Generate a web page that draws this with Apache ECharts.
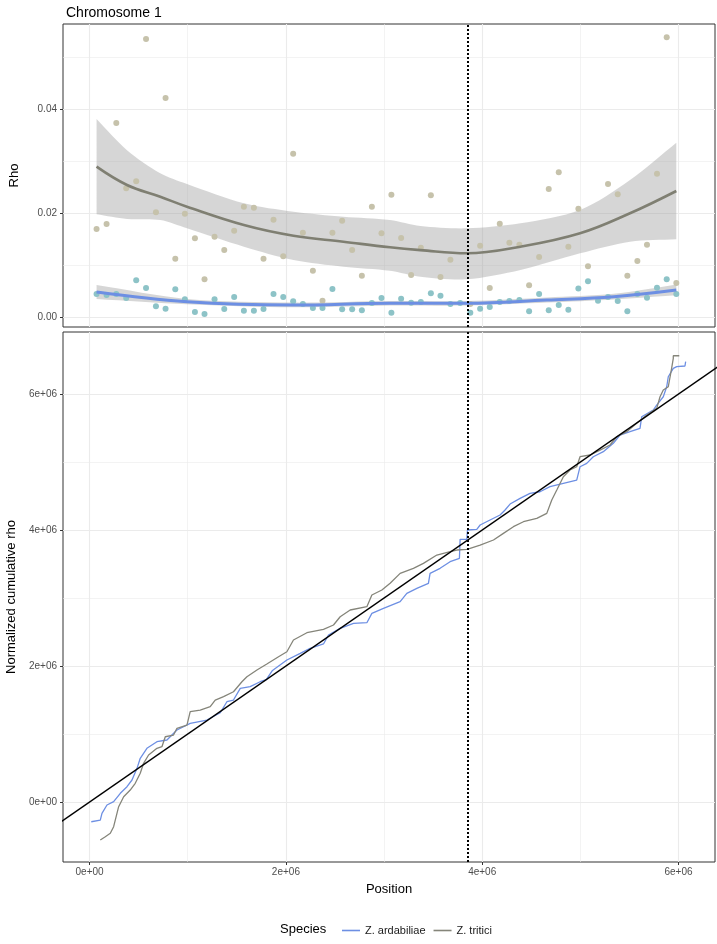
<!DOCTYPE html>
<html><head><meta charset="utf-8">
<script src="https://cdn.jsdelivr.net/npm/echarts@6/dist/echarts.min.js"></script>
<style>html,body{margin:0;padding:0;background:#fff}#c{width:717px;height:944px}</style>
</head><body><div id="c"></div>
<script>
// ---------- DATA (positions in Mb) ----------
const windowPos = [0.071,0.173,0.272,0.373,0.475,0.575,0.676,0.774,0.873,0.971,
  1.073,1.171,1.273,1.372,1.473,1.572,1.674,1.772,1.874,1.973,
  2.074,2.173,2.275,2.373,2.474,2.573,2.675,2.774,2.876,2.974,
  3.075,3.174,3.276,3.375,3.477,3.575,3.676,3.775,3.879,3.979,
  4.077,4.179,4.277,4.379,4.478,4.580,4.678,4.780,4.878,4.980,
  5.078,5.180,5.282,5.381,5.479,5.581,5.679,5.781,5.880,5.978];
const rhoArdabiliae = [0.00456,0.00437,0.00456,0.00379,0.00719,0.00571,0.00219,0.00173,0.00546,0.00354,
  0.0011,0.00071,0.00354,0.00167,0.00398,0.00135,0.00135,0.00167,0.00456,0.00398,
  0.00315,0.00263,0.00186,0.00186,0.00552,0.0016,0.0016,0.00141,0.00282,0.00379,
  0.00096,0.00365,0.00288,0.00301,0.00469,0.00424,0.00263,0.00282,0.00096,0.00173,
  0.00205,0.00301,0.0032,0.00339,0.00122,0.00456,0.00141,0.00244,0.00154,0.00559,
  0.0070,0.00327,0.00398,0.0032,0.00122,0.00456,0.00385,0.00577,0.00737,0.00456];
const rhoTritici = [0.01706,0.0180,0.03744,0.02488,0.02623,0.0536,0.02027,0.04225,0.01135,0.0200,
  0.01527,0.00738,0.01558,0.01302,0.01673,0.02135,0.02115,0.01135,0.01885,0.0118,
  0.03154,0.01635,0.00904,0.00327,0.01635,0.01865,0.01302,0.00808,0.02135,0.01623,
  0.02365,0.01533,0.00821,0.01346,0.02354,0.00783,0.01115,null,0.00263,0.01385,
  0.00571,0.01808,0.01442,0.01404,0.00623,0.01167,0.02475,0.02796,0.01365,0.02096,
  0.00988,null,0.02571,0.02373,0.00808,0.0109,0.01404,0.02769,0.05392,0.00667];

// loess fits with confidence bands
const fitPosTritici = [0.071,0.381,0.72,0.992,1.572,2.077,2.586,3.06,3.37,3.843,4.39,4.997,5.506,5.978];
const fitTritici    = [0.02904,0.02552,0.02327,0.02135,0.01783,0.01577,0.01462,0.01354,0.0130,0.01238,0.01365,0.01623,0.02008,0.02437];
const upperTritici  = [0.0382,0.0322,0.02777,0.02571,0.0220,0.02038,0.01942,0.01879,0.01763,0.01719,0.01815,0.0207,0.02648,0.03365];
const lowerTritici  = [0.0199,0.0190,0.01879,0.01719,0.01365,0.0111,0.00981,0.00904,0.00789,0.00738,0.00917,0.01238,0.01462,0.01508];

const fitPosArdabiliae = [0.071,0.992,2.077,3.06,3.843,4.66,5.34,5.978];
const fitArdabiliae    = [0.00494,0.00308,0.00244,0.00277,0.00277,0.0034,0.00404,0.00533];
const upperArdabiliae  = [0.00629,0.0036,0.0029,0.0032,0.0032,0.0039,0.0046,0.0064];
const lowerArdabiliae  = [0.0036,0.0026,0.0020,0.00234,0.00234,0.0029,0.0035,0.0043];

// cumulative normalized rho (x Mb, y Mb)
const cumArdabiliae = [[0.017,-0.29],[0.109,-0.265],[0.126,-0.167],[0.177,-0.044],[0.245,0.005],[0.313,0.128],[0.381,0.225],[0.432,0.324],[0.483,0.495],[0.516,0.643],[0.584,0.79],[0.686,0.887],[0.788,0.912],[0.89,1.059],[1.025,1.157],[1.195,1.206],[1.331,1.313],[1.399,1.475],[1.466,1.5],[1.535,1.672],[1.636,1.696],[1.738,1.769],[1.80,1.80],[1.86,1.93],[2.01,2.088],[2.146,2.186],[2.247,2.26],[2.383,2.324],[2.434,2.456],[2.553,2.554],[2.689,2.628],[2.825,2.637],[2.876,2.775],[2.994,2.848],[3.164,2.946],[3.232,3.069],[3.334,3.142],[3.452,3.216],[3.469,3.363],[3.571,3.437],[3.673,3.534],[3.768,3.584],[3.775,3.863],[3.843,3.863],[3.85,4.0],[3.945,4.01],[3.979,4.074],[4.08,4.147],[4.182,4.221],[4.233,4.294],[4.284,4.382],[4.386,4.466],[4.487,4.54],[4.589,4.563],[4.691,4.637],[4.827,4.686],[4.963,4.735],[4.997,4.931],[5.065,4.98],[5.132,5.078],[5.234,5.152],[5.336,5.275],[5.404,5.397],[5.506,5.446],[5.608,5.496],[5.625,5.666],[5.743,5.765],[5.778,5.838],[5.845,5.96],[5.88,6.107],[5.896,6.254],[5.947,6.378],[5.982,6.402],[6.066,6.412],[6.073,6.475]];
const cumTritici = [[0.109,-0.559],[0.16,-0.51],[0.211,-0.46],[0.245,-0.363],[0.296,-0.069],[0.347,0.078],[0.414,0.176],[0.465,0.275],[0.516,0.422],[0.55,0.569],[0.601,0.691],[0.686,0.79],[0.737,0.813],[0.771,0.96],[0.855,0.985],[0.89,1.084],[0.992,1.132],[1.025,1.328],[1.127,1.353],[1.229,1.402],[1.28,1.5],[1.365,1.549],[1.466,1.622],[1.552,1.769],[1.603,1.843],[1.705,1.941],[1.806,2.029],[1.925,2.137],[2.01,2.21],[2.077,2.382],[2.214,2.49],[2.383,2.54],[2.485,2.603],[2.553,2.725],[2.655,2.824],[2.825,2.872],[2.876,3.044],[2.978,3.118],[3.062,3.216],[3.164,3.363],[3.299,3.437],[3.401,3.51],[3.538,3.632],[3.673,3.681],[3.741,3.706],[3.843,3.716],[3.877,3.731],[3.979,3.779],[4.115,3.853],[4.216,3.951],[4.318,4.049],[4.42,4.122],[4.556,4.172],[4.658,4.245],[4.709,4.441],[4.76,4.588],[4.827,4.784],[4.895,4.882],[4.963,4.931],[4.997,5.078],[5.099,5.103],[5.201,5.176],[5.303,5.25],[5.371,5.372],[5.473,5.446],[5.574,5.569],[5.676,5.691],[5.778,5.789],[5.812,5.96],[5.845,6.059],[5.896,6.107],[5.93,6.378],[5.947,6.525],[5.947,6.563],[6.008,6.563]];

const identityRange = [-1, 7];      // y = x reference line
const centromerePos = 3.849;        // dotted vertical line
const speciesNames = ['Z. ardabiliae', 'Z. tritici'];

const xMajorTicks = [0, 2, 4, 6];
const xMinorTicks = [1, 3, 5];
const rhoMajorTicks = [0, 0.02, 0.04];
const rhoMinorTicks = [0.01, 0.03, 0.05];
const cumMajorTicks = [0, 2, 4, 6];
const cumMinorTicks = [1, 3, 5];

// ---------- CHART ----------
const FONT = '"Liberation Sans", Arial, Helvetica, sans-serif';
const C_BLUE = '#6d8fe3', C_GRAY = '#85857a';
const C_TEAL_PT = '#8dc3c7', C_TAN_PT = '#c6c2ab';
const C_FIT_GRAY = '#7f7f72';
const BAND = 'rgba(153,153,153,0.4)';
const GRID_COL = '#ebebeb';
const X_EXT = [-0.271, 6.372];
const Y1_EXT = [-0.00179, 0.05648];
const Y2_EXT = [-0.882, 6.912];

const fmtSci = v => (v === 0 ? '0e+00' : v + 'e+06');

function minorAxis(grid, ext, ticks, pos) {
  return { type: 'value', gridIndex: grid, position: pos, min: ext[0], max: ext[1],
    axisLine: {show: false, onZero: false}, axisLabel: {show: false},
    axisTick: {show: false, customValues: ticks},
    splitLine: {show: true, lineStyle: {color: GRID_COL, width: 0.6}} };
}
function majorAxis(grid, ext, ticks, pos, opts) {
  return Object.assign({ type: 'value', gridIndex: grid, position: pos, min: ext[0], max: ext[1],
    axisLine: {show: false, onZero: false},
    axisTick: {show: false, customValues: ticks},
    axisLabel: {show: false, customValues: ticks},
    splitLine: {show: true, lineStyle: {color: GRID_COL, width: 1.1}} }, opts || {});
}
const tickStyle = {show: true, length: 3, lineStyle: {color: '#333', width: 1}};
const labStyle = {show: true, color: '#4d4d4d', fontSize: 10, fontFamily: FONT, margin: 6};

const toPts = (xs, ys) => xs.map((x, i) => [x, ys[i]]).filter(p => p[1] !== null);

const vline = {
  silent: true, symbol: 'none', label: {show: false},
  lineStyle: {type: [2, 2], width: 2, color: '#000'},
  data: [{xAxis: centromerePos}]
};

// confidence ribbon drawn as one polygon through the axis scales
// (corner points doubled so the smoothing keeps the ribbon ends straight)
function band(xs, lo, hi) {
  return {
    type: 'custom', xAxisIndex: 1, yAxisIndex: 1, silent: true, clip: true,
    data: [0],
    renderItem: (params, api) => {
      const up = xs.map((x, i) => api.coord([x, hi[i]]));
      const dn = xs.map((x, i) => api.coord([x, lo[i]])).reverse();
      const dup = arr => [arr[0]].concat(arr, [arr[arr.length - 1]]);
      return {
        type: 'polygon',
        shape: {points: dup(up).concat(dup(dn)), smooth: 0.3},
        style: {fill: BAND, stroke: null}
      };
    }
  };
}

const option = {
  animation: false,
  backgroundColor: '#fff',
  textStyle: {fontFamily: FONT},
  title: [
    {text: 'Chromosome 1', left: 61, top: 1, textStyle: {fontSize: 14, fontWeight: 'normal', color: '#000', fontFamily: FONT}},
    {text: 'Species', left: 275, top: 918, textStyle: {fontSize: 13, fontWeight: 'normal', color: '#000', fontFamily: FONT}}
  ],
  legend: {
    data: speciesNames, left: 337, top: 920, icon: 'rect', itemWidth: 18, itemHeight: 1.6,
    itemGap: 8, textStyle: {fontSize: 11, color: '#1a1a1a', fontFamily: FONT}
  },
  grid: [
    {left: 63, top: 24, width: 652, height: 303, show: true, borderColor: '#333', borderWidth: 1, containLabel: false, outerBoundsMode: 'none'},
    {left: 63, top: 332, width: 652, height: 530, show: true, borderColor: '#333', borderWidth: 1, containLabel: false, outerBoundsMode: 'none'}
  ],
  xAxis: [
    minorAxis(0, X_EXT, xMinorTicks, 'bottom'),
    majorAxis(0, X_EXT, xMajorTicks, 'bottom'),
    minorAxis(1, X_EXT, xMinorTicks, 'bottom'),
    majorAxis(1, X_EXT, xMajorTicks, 'bottom', {
      axisTick: Object.assign({customValues: xMajorTicks}, tickStyle),
      axisLabel: Object.assign({customValues: xMajorTicks, formatter: fmtSci}, labStyle, {margin: 5}),
      name: 'Position', nameLocation: 'middle', nameGap: 21,
      nameTextStyle: {fontSize: 13, color: '#000', fontFamily: FONT}
    })
  ],
  yAxis: [
    minorAxis(0, Y1_EXT, rhoMinorTicks, 'left'),
    majorAxis(0, Y1_EXT, rhoMajorTicks, 'left', {
      axisTick: Object.assign({customValues: rhoMajorTicks}, tickStyle),
      axisLabel: Object.assign({customValues: rhoMajorTicks, formatter: v => v.toFixed(2)}, labStyle),
      name: 'Rho', nameLocation: 'middle', nameGap: 42,
      nameTextStyle: {fontSize: 13, color: '#000', fontFamily: FONT}
    }),
    minorAxis(1, Y2_EXT, cumMinorTicks, 'left'),
    majorAxis(1, Y2_EXT, cumMajorTicks, 'left', {
      axisTick: Object.assign({customValues: cumMajorTicks}, tickStyle),
      axisLabel: Object.assign({customValues: cumMajorTicks, formatter: fmtSci}, labStyle),
      name: 'Normalized cumulative rho', nameLocation: 'middle', nameGap: 44,
      nameTextStyle: {fontSize: 13, color: '#000', fontFamily: FONT}
    })
  ],
  series: [
    {type: 'scatter', name: 'tritici points', xAxisIndex: 1, yAxisIndex: 1, symbolSize: 6,
     itemStyle: {color: C_TAN_PT, opacity: 1}, data: toPts(windowPos, rhoTritici), silent: true},
    {type: 'scatter', name: 'ardabiliae points', xAxisIndex: 1, yAxisIndex: 1, symbolSize: 6,
     itemStyle: {color: C_TEAL_PT, opacity: 1}, data: toPts(windowPos, rhoArdabiliae), silent: true},
    band(fitPosTritici, lowerTritici, upperTritici),
    band(fitPosArdabiliae, lowerArdabiliae, upperArdabiliae),
    {type: 'line', name: 'tritici fit', xAxisIndex: 1, yAxisIndex: 1, smooth: 0.4, symbol: 'none',
     data: toPts(fitPosTritici, fitTritici), lineStyle: {color: C_FIT_GRAY, width: 2.6}, silent: true},
    {type: 'line', name: 'ardabiliae fit', xAxisIndex: 1, yAxisIndex: 1, smooth: 0.4, symbol: 'none',
     data: toPts(fitPosArdabiliae, fitArdabiliae), lineStyle: {color: C_BLUE, width: 3}, silent: true,
     markLine: vline},
    {type: 'line', name: speciesNames[0], xAxisIndex: 3, yAxisIndex: 3, symbol: 'none',
     data: cumArdabiliae, itemStyle: {color: C_BLUE}, lineStyle: {color: C_BLUE, width: 1.3}, silent: true},
    {type: 'line', name: speciesNames[1], xAxisIndex: 3, yAxisIndex: 3, symbol: 'none',
     data: cumTritici, itemStyle: {color: C_GRAY}, lineStyle: {color: C_GRAY, width: 1.3}, silent: true},
    {type: 'line', name: 'identity', xAxisIndex: 3, yAxisIndex: 3, symbol: 'none', clip: true,
     data: identityRange.map(v => [v, v]), lineStyle: {color: '#000', width: 1.3}, silent: true,
     markLine: vline}
  ]
};
echarts.init(document.getElementById('c'), null, {renderer: 'canvas'}).setOption(option);
</script></body></html>
